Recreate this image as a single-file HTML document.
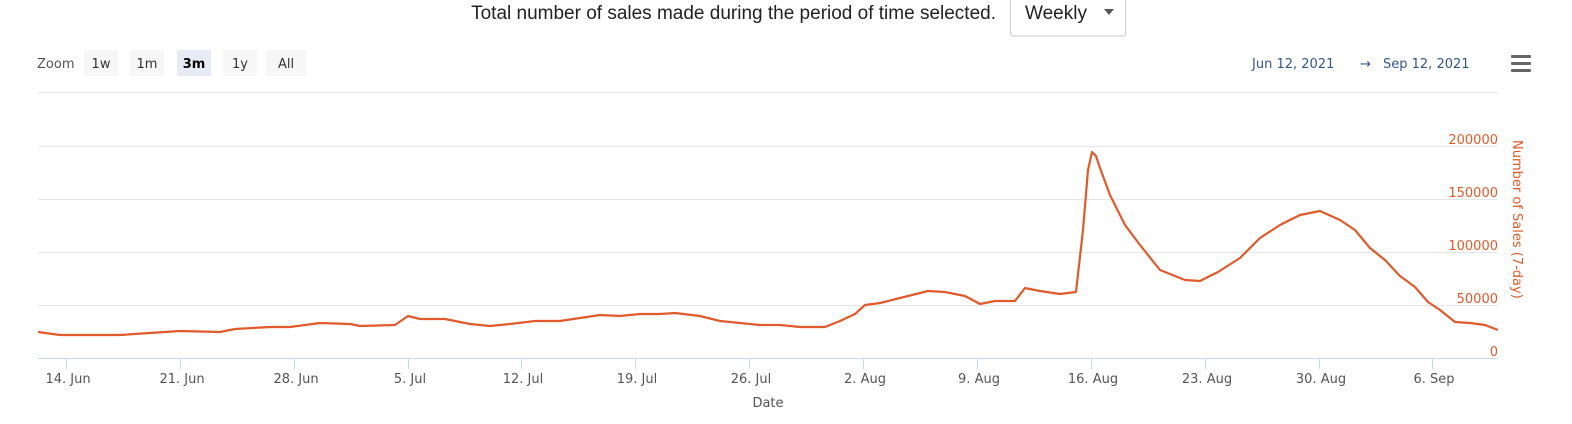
<!DOCTYPE html>
<html><head><meta charset="utf-8"><style>
body{margin:0;background:#fff;width:1572px;height:419px;overflow:hidden;font-family:"Liberation Sans",sans-serif}
</style></head><body>
<svg width="1572" height="419" xmlns="http://www.w3.org/2000/svg" font-family="'DejaVu Sans','Liberation Sans',sans-serif">
<text x="996" y="19" text-anchor="end" font-family="'Liberation Sans',sans-serif" font-size="19" fill="#222">Total number of sales made during the period of time selected.</text>
<rect x="1010.5" y="-6" width="115" height="42" rx="3" fill="#fff" stroke="#ccc"/>
<text x="1025" y="19" font-family="'Liberation Sans',sans-serif" font-size="19" fill="#222">Weekly</text>
<path d="M1104 9 l10 0 l-5 6z" fill="#555"/>
<text x="37" y="68" font-size="13" fill="#555">Zoom</text>
<rect x="84" y="50" width="34" height="26" fill="#f7f7f7"/><text x="101" y="68" font-size="13" text-anchor="middle" fill="#333">1w</text>
<rect x="130" y="50" width="34" height="26" fill="#f7f7f7"/><text x="147" y="68" font-size="13" text-anchor="middle" fill="#333">1m</text>
<rect x="177" y="50" width="34" height="26" fill="#e6ebf5"/><text x="194" y="68" font-size="13" text-anchor="middle" font-weight="bold" fill="#000">3m</text>
<rect x="223" y="50" width="34" height="26" fill="#f7f7f7"/><text x="240" y="68" font-size="13" text-anchor="middle" fill="#333">1y</text>
<rect x="266" y="50" width="40" height="26" fill="#f7f7f7"/><text x="286" y="68" font-size="13" text-anchor="middle" fill="#333">All</text>
<text x="1252" y="68" font-size="13" fill="#34578a">Jun 12, 2021</text>
<text x="1360" y="68" font-size="13" fill="#34578a">→</text>
<text x="1383" y="68" font-size="13" fill="#34578a">Sep 12, 2021</text>
<rect x="1511" y="55" width="20" height="3" rx="1" fill="#666"/><rect x="1511" y="62" width="20" height="3" rx="1" fill="#666"/><rect x="1511" y="69" width="20" height="3" rx="1" fill="#666"/>
<g stroke="#e6e6e6" stroke-width="1">
<line x1="38" x2="1498" y1="92.5" y2="92.5"/>
<line x1="38" x2="1498" y1="146.5" y2="146.5"/>
<line x1="38" x2="1498" y1="199.5" y2="199.5"/>
<line x1="38" x2="1498" y1="252.5" y2="252.5"/>
<line x1="38" x2="1498" y1="305.5" y2="305.5"/>
</g>
<line x1="38" x2="1498" y1="358.5" y2="358.5" stroke="#ccd6eb"/>
<g stroke="#ccd6eb">
<line x1="66.5" x2="66.5" y1="359" y2="369"/><line x1="180.5" x2="180.5" y1="359" y2="369"/><line x1="294.5" x2="294.5" y1="359" y2="369"/><line x1="408.5" x2="408.5" y1="359" y2="369"/><line x1="521.5" x2="521.5" y1="359" y2="369"/><line x1="635.5" x2="635.5" y1="359" y2="369"/><line x1="749.5" x2="749.5" y1="359" y2="369"/><line x1="863.5" x2="863.5" y1="359" y2="369"/><line x1="977.5" x2="977.5" y1="359" y2="369"/><line x1="1091.5" x2="1091.5" y1="359" y2="369"/><line x1="1205.5" x2="1205.5" y1="359" y2="369"/><line x1="1319.5" x2="1319.5" y1="359" y2="369"/><line x1="1432.5" x2="1432.5" y1="359" y2="369"/>
</g>
<g font-size="13" fill="#555" text-anchor="middle">
<text x="68" y="383">14. Jun</text><text x="182" y="383">21. Jun</text><text x="296" y="383">28. Jun</text><text x="410" y="383">5. Jul</text><text x="523" y="383">12. Jul</text><text x="637" y="383">19. Jul</text><text x="751" y="383">26. Jul</text><text x="865" y="383">2. Aug</text><text x="979" y="383">9. Aug</text><text x="1093" y="383">16. Aug</text><text x="1207" y="383">23. Aug</text><text x="1321" y="383">30. Aug</text><text x="1434" y="383">6. Sep</text>
<text x="768" y="407">Date</text>
</g>
<g font-size="13" fill="#e05a2b" text-anchor="end">
<text x="1498" y="144">200000</text><text x="1498" y="197">150000</text><text x="1498" y="250">100000</text><text x="1498" y="303">50000</text><text x="1498" y="356">0</text>
</g>
<text transform="translate(1513,140) rotate(90)" font-size="13" fill="#e05a2b">Number of Sales (7-day)</text>
<polyline fill="none" stroke="#e05a2b" stroke-width="2.2" stroke-linejoin="round" points="38,332 60,335 120,335 180,331 220,332 235,329 270,327 290,327 320,323 350,324 360,326 395,325 408,316 420,319 445,319 470,324 490,326 510,324 535,321 560,321 600,315 620,316 640,314 660,314 675,313 700,316 720,321 740,323 760,325 780,325 800,327 825,327 840,321 855,314 865,305 880,303 900,298 928,291 945,292 965,296 980,304 995,301 1015,301 1025,288 1040,291 1060,294 1076,292 1083,230 1088,170 1092,152 1096,156 1100,168 1110,195 1125,225 1140,245 1160,270 1185,280 1200,281 1218,272 1240,258 1260,238 1280,225 1300,215 1320,211 1340,220 1355,230 1370,248 1385,260 1400,276 1415,287 1428,302 1440,310 1455,322 1470,323 1485,325 1498,330"/>
</svg>
</body></html>
